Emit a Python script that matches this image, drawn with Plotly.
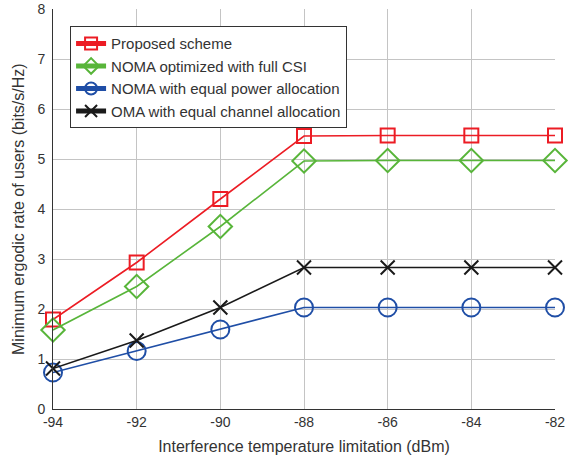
import plotly.graph_objects as go

x_vals = [-94, -92, -90, -88, -86, -84, -82]
proposed = [1.79, 2.93, 4.20, 5.46, 5.47, 5.47, 5.47]
noma_full = [1.58, 2.45, 3.65, 4.96, 4.97, 4.97, 4.97]
noma_equal = [0.73, 1.16, 1.59, 2.03, 2.03, 2.03, 2.03]
oma_equal = [0.81, 1.37, 2.03, 2.83, 2.83, 2.83, 2.83]

names = ["Proposed scheme", "NOMA optimized with full CSI",
         "NOMA with equal power allocation", "OMA with equal channel allocation"]
series = [proposed, noma_full, noma_equal, oma_equal]
colors = ["#ec1c24", "#58b53a", "#1f4ea6", "#1a1a1a"]
symbols = ["square-open", "diamond-open", "circle-open", "x-thin-open"]
sizes = [14, 18, 18, 14]

fig = go.Figure()
for n, s, c, sym, sz in zip(names, series, colors, symbols, sizes):
    fig.add_trace(go.Scatter(
        x=x_vals, y=s, name=n, mode="lines+markers",
        line=dict(color=c, width=1.6),
        marker=dict(symbol=sym, size=sz, color=c, line=dict(color=c, width=2)),
        cliponaxis=False,
    ))

fig.update_layout(
    width=569, height=455,
    margin=dict(l=53, r=14, t=9, b=46),
    plot_bgcolor="white", paper_bgcolor="white",
    font=dict(family="Liberation Sans, Arial, sans-serif", size=14, color="#333333"),
    showlegend=True,
    legend=dict(
        x=0.034, y=0.957, xanchor="left", yanchor="top",
        bgcolor="white", bordercolor="#333333", borderwidth=1,
        font=dict(size=15, color="#333333"),
        tracegroupgap=0, itemsizing="constant",
    ),
    xaxis=dict(
        range=[-94, -82], tickvals=x_vals, ticktext=[str(v) for v in x_vals],
        showgrid=True, gridcolor="#c4c4c4", gridwidth=1,
        showline=True, linecolor="#333333", linewidth=1,
        ticks="", zeroline=False, automargin=False,
        title=dict(text="Interference temperature limitation (dBm)", font=dict(size=16)),
        tickfont=dict(size=14),
    ),
    yaxis=dict(
        range=[0, 8], dtick=1,
        showgrid=True, gridcolor="#c4c4c4", gridwidth=1,
        showline=True, linecolor="#333333", linewidth=1,
        ticks="", zeroline=False, automargin=False, ticklabelstandoff=4,
        tickfont=dict(size=14),
    ),
    annotations=[dict(
        text="Minimum ergodic rate of users (bits/s/Hz)",
        xref="paper", yref="paper", x=(18 - 53) / 502, y=0.5,
        xanchor="center", yanchor="middle", textangle=-90,
        showarrow=False, font=dict(size=16, color="#333333"),
    )],
)

fig.write_html("out.html")
